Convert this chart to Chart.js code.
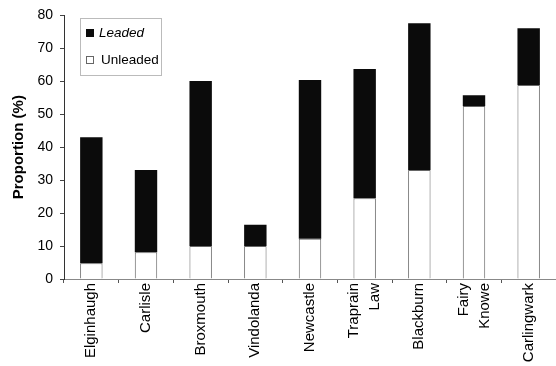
<!DOCTYPE html>
<html>
<head>
<meta charset="utf-8">
<script src="https://cdn.jsdelivr.net/npm/chart.js@4.4.1/dist/chart.umd.min.js"></script>
<style>
    html, body { margin: 0; padding: 0; background: #fff; overflow: hidden; }
    #wrap { width: 556px; height: 366px; }
</style>
</head>
<body>
<div id="wrap"><canvas id="myChart" width="556" height="366"></canvas></div>
<script>
// data
const sites = ['Elginhaugh', 'Carlisle', 'Broxmouth', 'Vindolanda', 'Newcastle',
    ['Traprain', 'Law'], 'Blackburn', ['Fairy', 'Knowe'], 'Carlingwark'];
const unleaded = [4.8, 8.1, 10, 10, 12.2, 24.5, 33.1, 52.5, 58.9];
const leaded = [38.2, 25, 50.1, 6.5, 48.2, 39.2, 44.5, 3.3, 17.2];
const yTicks = [0, 10, 20, 30, 40, 50, 60, 70, 80];

const FONT = 'Arial, "Liberation Sans", sans-serif';

// legend box drawn inside the plot (top left)
const boxLegend = {
    id: 'boxLegend',
    afterDraw(chart) {
        const c = chart.ctx;
        c.save();
        c.strokeStyle = '#777';
        c.lineWidth = 1;
        c.setLineDash([1, 1]);
        c.strokeRect(80.5, 18.5, 81, 57);
        c.setLineDash([]);

        const items = chart.data.datasets.slice().reverse();
        items.forEach((ds, i) => {
            const y = 33 + i * 27;
            c.fillStyle = ds.backgroundColor;
            c.fillRect(86, y - 4, 8, 8);
            if (ds.borderWidth) {
                c.strokeStyle = ds.borderColor;
                c.strokeRect(86.5, y - 3.5, 7, 7);
            }
            c.fillStyle = '#000';
            c.font = (i === 0 ? 'italic ' : '') + '13.5px ' + FONT;
            c.textBaseline = 'middle';
            c.fillText(ds.label, i === 0 ? 99 : 101, y);
        });
        c.restore();
    }
};

// two-line labels: centre the pair of lines on the bar, not the first line
const centreLabels = {
    id: 'centreLabels',
    beforeDraw(chart) {
        const scale = chart.scales.x;
        scale.getLabelItems().forEach(item => {
            if (Array.isArray(item.label) && !item._moved) {
                const lh = item.font.lineHeight;
                item.options.translation[0] -= lh * (item.label.length - 1) / 2;
                item._moved = true;
            }
        });
    }
};

const ctx = document.getElementById('myChart').getContext('2d');
const myChart = new Chart(ctx, {
    type: 'bar',
    data: {
        labels: sites,
        datasets: [
            {label: 'Unleaded', data: unleaded, backgroundColor: '#ffffff', borderColor: '#666', borderWidth: 1},
            {label: 'Leaded', data: leaded, backgroundColor: '#0b0b0b', borderColor: '#0b0b0b', borderWidth: 0}
        ]
    },
    options: {
        responsive: false,
        animation: false,
        layout: {padding: {top: 13, left: 0, right: 0, bottom: 0}},
        datasets: {bar: {categoryPercentage: 1, barPercentage: 0.41}},
        plugins: {legend: {display: false}, tooltip: {enabled: false}},
        scales: {
            x: {
                stacked: true,
                offset: true,
                grid: {display: true, offset: true, drawOnChartArea: false, tickLength: 4, color: '#555'},
                border: {display: true, color: '#888', dash: [1, 2]},
                ticks: {
                    color: '#000', font: {family: FONT, size: 15, lineHeight: 1.4},
                    minRotation: 90, maxRotation: 90, autoSkip: false, padding: 0
                },
                afterFit(scale) { scale.height = 87; }
            },
            y: {
                stacked: true,
                min: 0, max: 80,
                afterBuildTicks(scale) { scale.ticks = yTicks.map(v => ({value: v})); },
                grid: {display: true, drawOnChartArea: false, tickLength: 4, color: '#444'},
                border: {display: true, color: '#333'},
                ticks: {color: '#000', font: {family: FONT, size: 14}, padding: 7},
                title: {
                    display: true, text: 'Proportion (%)', color: '#000',
                    font: {family: FONT, size: 15, weight: 'bold'},
                    padding: {top: 10, bottom: 0}
                },
                afterFit(scale) { scale.width = 64; }
            }
        }
    },
    plugins: [boxLegend, centreLabels]
});
</script>
</body>
</html>
